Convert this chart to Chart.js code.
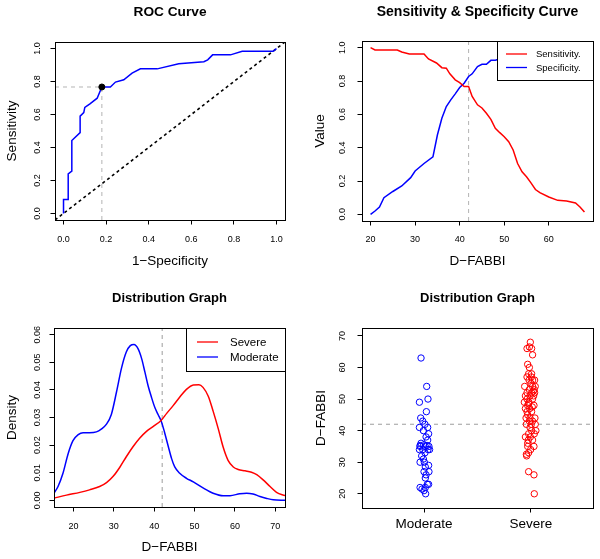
<!DOCTYPE html>
<html><head><meta charset="utf-8">
<script src="https://cdn.jsdelivr.net/npm/chart.js@4/dist/chart.umd.min.js"></script>
<style>
body{margin:0;background:#fff;width:600px;height:559px;position:relative;overflow:hidden}
.p{position:absolute}
</style></head><body>
<div class="p" style="left:0;top:0"><canvas id="c1" width="300" height="280"></canvas></div>
<div class="p" style="left:300px;top:0"><canvas id="c2" width="300" height="280"></canvas></div>
<div class="p" style="left:0;top:280px"><canvas id="c3" width="300" height="279"></canvas></div>
<div class="p" style="left:300px;top:280px"><canvas id="c4" width="300" height="279"></canvas></div>
<script>
// ---------- DATA ----------
// Panel 1: ROC curve
const rocFpr = [0,0,0.022,0.022,0.039,0.039,0.078,0.078,0.095,0.1,0.124,0.158,0.18,0.22,0.244,0.283,0.322,0.361,0.44,0.541,0.659,0.677,0.70,0.784,0.839,0.984,1.0];
const rocTpr = [0,0.084,0.084,0.24,0.257,0.442,0.49,0.59,0.612,0.643,0.665,0.699,0.767,0.767,0.797,0.811,0.851,0.877,0.877,0.908,0.92,0.932,0.962,0.962,0.984,0.984,1.0];
const bestFpr = 0.18, bestTpr = 0.767;
const diagLine = [-0.04, 1.04];
const unitTicks = [0,0.2,0.4,0.6,0.8,1.0];

// Panel 2: Sensitivity & Specificity
const sensX = [20,21,26,27,28.7,32,33,34.8,36,37,37.8,39,40,41,42,42.8,44,45,46,47,48,49,50,51,52,53,54,55,56,57,58,60,62,64,66,67,68];
const sensY = [1.0,0.986,0.986,0.974,0.962,0.962,0.932,0.908,0.88,0.877,0.843,0.807,0.79,0.767,0.767,0.707,0.657,0.638,0.606,0.57,0.516,0.49,0.466,0.436,0.386,0.305,0.255,0.225,0.189,0.149,0.13,0.104,0.084,0.08,0.068,0.044,0.014];
const specX = [20,21,22,23,25,27,29,30,32,34,35,36,37,38,39,40,41,42,42.8,44,45,46,47,48,50,54,58,63,68];
const specY = [0,0.02,0.044,0.1,0.137,0.17,0.22,0.26,0.305,0.345,0.476,0.576,0.647,0.687,0.723,0.761,0.787,0.827,0.843,0.887,0.90,0.90,0.924,0.924,0.94,0.96,0.98,0.98,1.0];
const cutoff = 42;
const fabbiTicks2 = [20,30,40,50,60];

// Panel 3: density
const modX = [15.2,16.2,17.4,18.7,19.9,21.2,22.4,24.0,25.7,26.9,28.2,29.4,30.7,31.9,33.1,34.1,35.0,36.0,36.9,37.7,38.5,39.3,40.2,41.0,41.8,42.6,43.5,44.3,45.1,46.4,48.0,49.7,52.1,54.6,57.1,58.8,61.2,62.9,64.5,66.2,67.9,69.5,72.4];
const modD = [0.0026,0.005,0.0097,0.0169,0.0216,0.0238,0.0245,0.0245,0.0248,0.0258,0.0276,0.0311,0.0394,0.0478,0.0537,0.056,0.0564,0.0549,0.0513,0.0465,0.0415,0.0375,0.0335,0.031,0.0285,0.0245,0.0195,0.0152,0.0121,0.0097,0.008,0.0067,0.0045,0.0026,0.0017,0.0017,0.0024,0.0026,0.0023,0.0014,0.0007,0.0002,0.0];
const sevX = [15.2,18.3,21.6,24.0,26.5,28.2,29.8,31.5,33.1,34.8,36.4,38.1,39.8,41.7,43.1,44.7,46.4,48.0,49.7,51.1,52.1,53.4,54.6,55.9,57.1,58.3,59.6,60.8,62.5,64.1,65.4,67.0,68.7,70.3,72.4];
const sevD = [0.0008,0.0019,0.0029,0.0038,0.005,0.0064,0.0086,0.012,0.0158,0.0195,0.0225,0.025,0.0268,0.0289,0.0315,0.0343,0.0375,0.0402,0.0418,0.0419,0.0409,0.0377,0.0323,0.0258,0.0192,0.0145,0.0121,0.0112,0.0107,0.0102,0.0093,0.0074,0.005,0.0029,0.0017];
const fabbiTicks3 = [20,30,40,50,60,70];
const densTicks = [0,0.01,0.02,0.03,0.04,0.05,0.06];

// Panel 4: strip chart (x = jittered group position)
const groups = ["Moderate","Severe"];
const modPtX = [0.972,1.025,1.037,0.957,1.022,0.969,0.988,1.009,0.957,1.034,0.994,1.043,1.019,1.034,0.972,0.997,0.963,1.028,0.963,1.012,1.046,0.957,0.988,1.037,1.052,1.009,0.978,0.994,0.963,1.003,1.043,1.012,1.0,1.046,1.019,1.012,1.031,1.043,0.963,1.012,0.981,1.0,1.015];
const modPtY = [63,54,50,49,46,44,43,42,41,41,40,39,38,37,36,35.5,35.3,35.3,35,35,35,34,34,34,34,33,32,31,30,30,29,28.5,27,27,26,25,23,23,22,22,21.5,21,20];
const sevPtX = [1.994,1.963,2.006,1.985,2.015,1.969,1.985,1.978,2.006,1.963,2.003,1.982,2.015,2.034,1.941,2.015,2.040,1.985,2.031,1.963,2.006,2.034,1.948,1.991,2.025,1.963,2.015,1.938,1.981,1.969,2.028,1.948,1.988,1.963,2.006,1.969,1.991,2.037,1.985,1.957,2.003,2.040,1.991,2.046,2.006,2.031,1.978,1.948,1.994,1.975,2.015,1.969,2.028,1.969,1.997,1.978,1.960,1.957,1.978,2.028,2.031,2.0,2.022,1.978,2.012,1.954,2.015];
const sevPtY = [68,66,66,66.5,64,61,60,58,58,57,57,56,56,56,54,54,54,53,53,52,52,52,51,51,51,50,50,49,49,48,48,47,47,46,46,45,44,44,43,42,42,42,41,40,40,39,39,38,38,37,37,36,35,35,34,33,32,32.5,27,26,20,55,52.5,48.5,47.5,44,43];
const fabbiTicks4 = [20,30,40,50,60,70];

// ---------- helpers ----------
const FONT = "'Liberation Sans', Arial, Helvetica, sans-serif";
Chart.defaults.font.family = FONT;
const RED = '#ff0000', BLUE = '#0000ff', GRAY = '#b4b4b4';
const xy = (xs, ys) => xs.map((x,i)=>({x:x, y:ys[i]}));

function rPlugin(cfg){
  return {
    id:'rdecor',
    afterDatasetsDraw(chart){
      const ctx = chart.ctx, a = chart.chartArea;
      ctx.save();
      if (cfg.legend){
        const L = cfg.legend, b = L.box;
        ctx.fillStyle = '#fff';
        ctx.fillRect(b[0], b[1], b[2]-b[0], b[3]-b[1]);
        ctx.strokeStyle = '#000'; ctx.lineWidth = 1;
        ctx.strokeRect(b[0]+0.5, b[1]+0.5, b[2]-b[0], b[3]-b[1]);
        ctx.font = L.size + 'px ' + FONT;
        ctx.textAlign = 'left'; ctx.textBaseline = 'middle';
        L.items.forEach(it=>{
          const ds = chart.data.datasets[it.ds];
          ctx.strokeStyle = ds.borderColor; ctx.lineWidth = 1.3;
          ctx.beginPath(); ctx.moveTo(L.lineX[0], it.y); ctx.lineTo(L.lineX[1], it.y); ctx.stroke();
          ctx.fillStyle = '#000';
          ctx.fillText(ds.label, L.textX, it.y+0.5);
        });
      }
      ctx.strokeStyle = '#000'; ctx.lineWidth = 1;
      ctx.strokeRect(a.left+0.5, a.top+0.5, a.right-a.left, a.bottom-a.top);
      ctx.restore();
    },
    afterDraw(chart){
      const ctx = chart.ctx, a = chart.chartArea;
      const cx = (a.left + a.right)/2, cy = (a.top + a.bottom)/2;
      ctx.save();
      ctx.fillStyle = '#000';
      ctx.textAlign = 'center'; ctx.textBaseline = 'middle';
      ctx.font = 'bold ' + cfg.title.size + 'px ' + FONT;
      ctx.fillText(cfg.title.text, cx, cfg.title.y);
      ctx.font = '13.5px ' + FONT;
      if (cfg.xTitle) ctx.fillText(cfg.xTitle.text, cx, cfg.xTitle.y);
      ctx.save(); ctx.translate(cfg.yTitle.x, cy); ctx.rotate(-Math.PI/2);
      ctx.fillText(cfg.yTitle.text, 0, 0); ctx.restore();
      const ys = chart.scales.y;
      ctx.font = '9px ' + FONT;
      ys.ticks.forEach(t=>{
        const py = ys.getPixelForValue(t.value);
        ctx.save(); ctx.translate(cfg.yTickX, py); ctx.rotate(-Math.PI/2);
        ctx.fillText(cfg.yFmt(t.value), 0, 0); ctx.restore();
      });
      ctx.restore();
    }
  };
}

function makeChart(id, H, area, sx, sy, datasets, deco){
  const gridOpt = {display:true, drawOnChartArea:false, drawTicks:true, tickLength:4.5, color:'#000', lineWidth:1};
  return new Chart(document.getElementById(id), {
    type:'line',
    data:{datasets:datasets},
    options:{
      responsive:false, animation:false, devicePixelRatio:1,
      layout:{padding:{left:0, top:area.t, right:300-area.r, bottom:0}},
      plugins:{legend:{display:false}, tooltip:{enabled:false}, title:{display:false}},
      scales:{
        x:{type:'linear', min:sx.min, max:sx.max,
           afterFit:(s)=>{ s.height = H - area.b; },
           afterBuildTicks:(s)=>{ s.ticks = sx.ticks.map(v=>({value:v})); },
           ticks:{display:true, autoSkip:false, maxRotation:0, minRotation:0, color:'#000',
                  font:{size:sx.fontSize||9, family:FONT}, padding:sx.pad, callback:sx.fmt},
           grid:gridOpt, border:{display:true, color:'#000', width:1}},
        y:{type:'linear', min:sy.min, max:sy.max,
           afterFit:(s)=>{ s.width = area.l; },
           afterBuildTicks:(s)=>{ s.ticks = sy.ticks.map(v=>({value:v})); },
           ticks:{display:false},
           grid:gridOpt, border:{display:true, color:'#000', width:1}}
      }
    },
    plugins:[rPlugin(deco)]
  });
}

const lineDs = (label, data, color, width, dash, extra) => Object.assign({
  label:label, data:data, borderColor:color, backgroundColor:color, borderWidth:width,
  borderDash:dash||[], pointRadius:0, fill:false, tension:0
}, extra||{});

// ---------- Panel 1 ----------
makeChart('c1', 280, {l:55,t:42,r:285,b:220},
  {min:-0.04, max:1.04, ticks:unitTicks, pad:10, fmt:v=>v.toFixed(1)},
  {min:-0.04, max:1.04, ticks:unitTicks},
  [
    {label:'cut', data:[{x:bestFpr,y:bestTpr}], showLine:false, pointRadius:3, pointBackgroundColor:'#000', pointBorderColor:'#000', borderColor:'#000'},
    lineDs('ROC', xy(rocFpr, rocTpr), BLUE, 1.5),
    lineDs('diag', xy(diagLine, diagLine), '#000', 1.6, [3,3]),
    lineDs('h', [{x:diagLine[0],y:bestTpr},{x:bestFpr,y:bestTpr}], GRAY, 1, [4,4]),
    lineDs('v', [{x:bestFpr,y:diagLine[0]},{x:bestFpr,y:bestTpr}], GRAY, 1, [4,4])
  ],
  {title:{text:'ROC Curve', y:12, size:13.7}, xTitle:{text:'1\u2212Specificity', y:261},
   yTitle:{text:'Sensitivity', x:12}, yTickX:38, yFmt:v=>v.toFixed(1)});

// ---------- Panel 2 ----------
makeChart('c2', 280, {l:62,t:41,r:293,b:221},
  {min:18.08, max:69.92, ticks:fabbiTicks2, pad:9, fmt:v=>String(v)},
  {min:-0.04, max:1.04, ticks:unitTicks},
  [
    lineDs('Sensitivity.', xy(sensX, sensY), RED, 1.5),
    lineDs('Specificity.', xy(specX, specY), BLUE, 1.5),
    lineDs('cut', [{x:cutoff,y:-0.04},{x:cutoff,y:1.04}], GRAY, 1, [4,4])
  ],
  {title:{text:'Sensitivity & Specificity Curve', y:12, size:14}, xTitle:{text:'D\u2212FABBI', y:261},
   yTitle:{text:'Value', x:20}, yTickX:43, yFmt:v=>v.toFixed(1),
   legend:{box:[197,41,293,80], lineX:[206,227], textX:236, size:9.5,
           items:[{ds:0,y:54},{ds:1,y:67.5}]}});

// ---------- Panel 3 ----------
makeChart('c3', 279, {l:54,t:48,r:285,b:227},
  {min:15.2, max:72.4, ticks:fabbiTicks3, pad:10, fmt:v=>String(v)},
  {min:-0.0024, max:0.0624, ticks:densTicks},
  [
    lineDs('Severe', xy(sevX, sevD), RED, 1.5, [], {cubicInterpolationMode:'monotone'}),
    lineDs('Moderate', xy(modX, modD), BLUE, 1.5, [], {cubicInterpolationMode:'monotone'}),
    lineDs('cut', [{x:cutoff,y:-0.0024},{x:cutoff,y:0.0624}], GRAY, 1.3, [4,4])
  ],
  {title:{text:'Distribution Graph', y:18, size:13}, xTitle:{text:'D\u2212FABBI', y:267},
   yTitle:{text:'Density', x:12}, yTickX:38, yFmt:v=>v.toFixed(2),
   legend:{box:[186,48,285,91], lineX:[197,218], textX:230, size:11.5,
           items:[{ds:0,y:62},{ds:1,y:77}]}});

// ---------- Panel 4 ----------
const ptDs = (label, xs, ys, color) => ({
  label:label, data:xy(xs, ys), showLine:false, borderColor:color, backgroundColor:'rgba(0,0,0,0)',
  pointRadius:3.2, pointBorderWidth:1, pointBackgroundColor:'rgba(0,0,0,0)', pointBorderColor:color, pointStyle:'circle'
});
makeChart('c4', 279, {l:62,t:48,r:293,b:228},
  {min:0.42, max:2.58, ticks:[1,2], pad:3.5, fontSize:13.5, fmt:v=>groups[Math.round(v)-1]},
  {min:15.5, max:72.5, ticks:fabbiTicks4},
  [
    ptDs('Moderate', modPtX, modPtY, BLUE),
    ptDs('Severe', sevPtX, sevPtY, RED),
    lineDs('cut', [{x:0.42,y:cutoff},{x:2.58,y:cutoff}], GRAY, 1.3, [4,4])
  ],
  {title:{text:'Distribution Graph', y:18, size:13},
   yTitle:{text:'D\u2212FABBI', x:21}, yTickX:43, yFmt:v=>String(v)});
</script>
</body></html>
